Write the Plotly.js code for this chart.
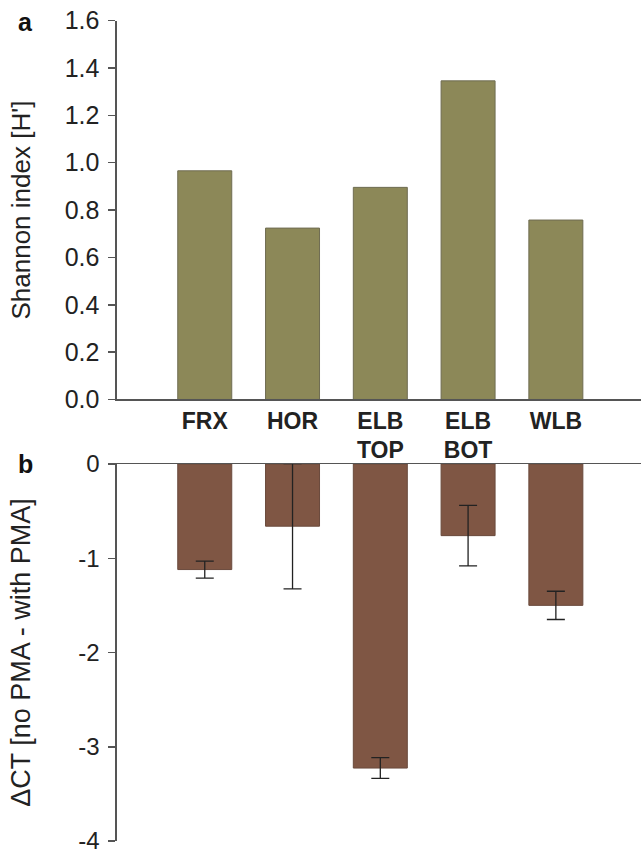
<!DOCTYPE html>
<html>
<head>
<meta charset="utf-8">
<script src="https://cdn.plot.ly/plotly-3.0.1.min.js"></script>
<style>
html, body { margin: 0; padding: 0; background: #fff; }
#chart { width: 641px; height: 853px; }
</style>
</head>
<body>
<div id="chart"></div>
<script>
// ---- data ----
const categories = ["FRX", "HOR", "ELB<br>TOP", "ELB<br>BOT", "WLB"];
const shannonIndex = [0.966, 0.724, 0.896, 1.346, 0.758];
const deltaCT = [-1.12, -0.66, -3.226, -0.76, -1.50];
const deltaCTErr = [0.09, 0.665, 0.11, 0.32, 0.15];
const topTickVals = [0, 0.2, 0.4, 0.6, 0.8, 1.0, 1.2, 1.4, 1.6];
const topTickText = ["0.0", "0.2", "0.4", "0.6", "0.8", "1.0", "1.2", "1.4", "1.6"];
const botTickVals = [0, -1, -2, -3, -4];
const botTickText = ["0", "-1", "-2", "-3", "-4"];

const FONT = "Liberation Sans, Arial, sans-serif";
const AX = "#555555";
const TXT = "#222222";
const xIdx = categories.map((_, i) => i);

const traces = [
  {
    type: "bar",
    x: xIdx,
    y: shannonIndex,
    xaxis: "x",
    yaxis: "y",
    width: 0.615,
    marker: { color: "#8c8858", line: { color: "#6f6c52", width: 1 } },
    hoverinfo: "y"
  },
  {
    type: "bar",
    x: xIdx,
    y: deltaCT,
    xaxis: "x2",
    yaxis: "y2",
    width: 0.615,
    marker: { color: "#7f5644", line: { color: "#6a4a3c", width: 1 } },
    error_y: { type: "data", array: deltaCTErr, visible: true, color: "#222", thickness: 1.3, width: 9 },
    hoverinfo: "y"
  }
];

const layout = {
  width: 641,
  height: 853,
  margin: { l: 0, r: 0, t: 0, b: 0 },
  paper_bgcolor: "#fff",
  plot_bgcolor: "#fff",
  showlegend: false,
  font: { family: FONT, color: TXT },
  xaxis: {
    domain: [0.1825, 1],
    anchor: "y",
    range: [-1.0, 4.97],
    tickvals: xIdx,
    ticktext: categories,
    ticks: "",
    showline: true,
    linecolor: AX,
    linewidth: 1.5,
    showgrid: false,
    zeroline: false,
    tickfont: { family: FONT, size: 23, color: TXT, weight: "bold" }
  },
  yaxis: {
    domain: [0.5317, 0.9757],
    anchor: "x",
    range: [0, 1.6],
    tickvals: topTickVals,
    ticktext: topTickText,
    ticks: "outside",
    ticklen: 7,
    tickwidth: 1.5,
    tickcolor: AX,
    ticklabelstandoff: 4,
    ticklabeloverflow: "allow",
    showline: true,
    linecolor: AX,
    linewidth: 1.5,
    showgrid: false,
    zeroline: false,
    tickfont: { family: FONT, size: 25, color: TXT },
    title: { text: "Shannon index [H']", font: { family: FONT, size: 26, color: TXT }, standoff: 26 }
  },
  xaxis2: {
    domain: [0.1825, 1],
    anchor: "y2",
    side: "top",
    range: [-1.0, 4.97],
    showticklabels: false,
    ticks: "",
    showline: true,
    linecolor: AX,
    linewidth: 1.5,
    showgrid: false,
    zeroline: false
  },
  yaxis2: {
    domain: [1 - 841 / 853, 1 - 464 / 853],
    anchor: "x2",
    range: [-4, 0],
    tickvals: botTickVals,
    ticktext: botTickText,
    ticks: "outside",
    ticklen: 7,
    tickwidth: 1.5,
    tickcolor: AX,
    ticklabelstandoff: 4,
    ticklabeloverflow: "allow",
    showline: true,
    linecolor: AX,
    linewidth: 1.5,
    showgrid: false,
    zeroline: false,
    tickfont: { family: FONT, size: 24, color: TXT },
    title: { text: "ΔCT [no PMA - with PMA]", font: { family: FONT, size: 27, color: TXT }, standoff: 40 }
  },
  annotations: [
    { text: "a", xref: "paper", yref: "paper", x: 25 / 641, y: 1 - 22 / 853, xanchor: "center", yanchor: "middle",
      showarrow: false, font: { family: FONT, size: 25, color: "#111", weight: "bold" } },
    { text: "b", xref: "paper", yref: "paper", x: 25 / 641, y: 1 - 464 / 853, xanchor: "center", yanchor: "middle",
      showarrow: false, font: { family: FONT, size: 25, color: "#111", weight: "bold" } }
  ]
};

Plotly.newPlot("chart", traces, layout, { displayModeBar: false, staticPlot: true });
</script>
</body>
</html>
